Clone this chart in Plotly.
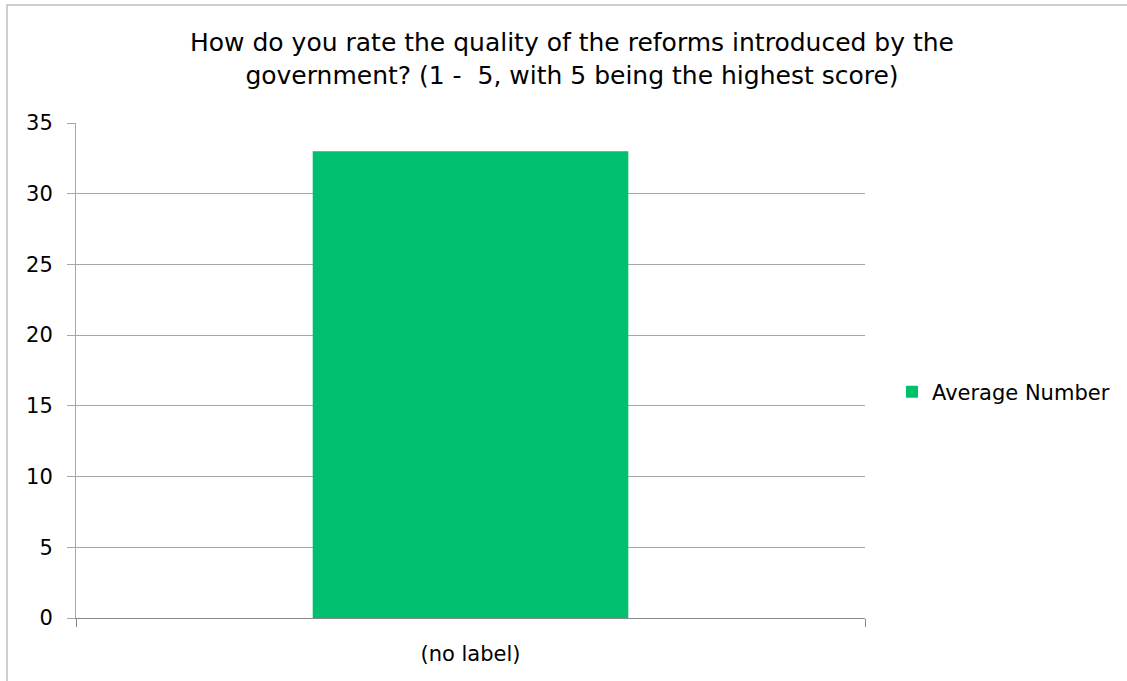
import plotly.graph_objects as go

categories = ["(no label)"]
values = [33]
series_name = "Average Number"
title_text = "How do you rate the quality of the reforms introduced by the<br>government? (1 -  5, with 5 being the highest score)"

FONT = "DejaVu Sans"
fig = go.Figure()
fig.add_trace(go.Bar(x=categories, y=values, name=series_name,
                     marker=dict(color="#00BF6F", line=dict(width=0)),
                     showlegend=True))

W, H = 1127, 681
L, R, T, B = 76, 865, 123, 618
fig.update_layout(
    width=W, height=H,
    margin=dict(l=L, r=W - R, t=T, b=H - B),
    paper_bgcolor="white", plot_bgcolor="white",
    bargap=0.6,
    font=dict(family=FONT, color="#000000", size=21),
    title=dict(text=title_text, x=(572 / W), xanchor="center", xref="container",
               y=1 - 51 / H, yanchor="middle", yref="container",
               font=dict(family=FONT, size=25, color="#000000")),
    showlegend=True,
    legend=dict(x=(892 - L) / (R - L), xanchor="left", y=(B - 392) / (B - T), yanchor="middle",
                font=dict(family=FONT, size=21, color="#000000"),
                itemwidth=30, bgcolor="rgba(0,0,0,0)"),
    xaxis=dict(type="category", range=[-0.5, 0.5], tickson="boundaries",
               ticks="outside", ticklen=8, tickcolor="#888888",
               showline=True, linecolor="#888888", linewidth=1,
               showgrid=False, tickfont=dict(family=FONT, size=21),
               ticklabelstandoff=17),
    yaxis=dict(range=[0, 35], dtick=5, tick0=0,
               ticks="outside", ticklen=8, tickcolor="#A6A6A6",
               showline=True, linecolor="#A6A6A6", linewidth=1,
               showgrid=True, gridcolor="#A6A6A6", gridwidth=1,
               zeroline=False, tickfont=dict(family=FONT, size=21),
               ticklabelstandoff=10),
    shapes=[dict(type="rect", xref="paper", yref="paper",
                 x0=(7 - L) / (R - L), x1=(W + 20 - L) / (R - L),
                 y0=(B - (H + 20)) / (B - T), y1=(B - 5) / (B - T),
                 line=dict(color="#BFBFBF", width=1.5), fillcolor="rgba(0,0,0,0)",
                 layer="below")],
)
fig.write_html("out.html", config={"displayModeBar": False},
               post_script="document.body.style.margin='0';")
